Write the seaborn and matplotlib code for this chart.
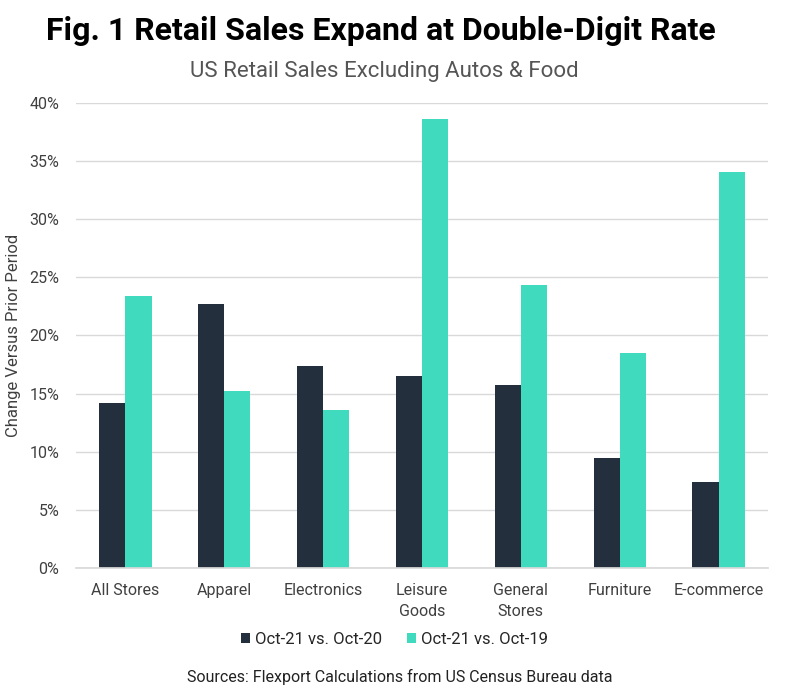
import numpy as np
import pandas as pd
import seaborn as sns
import matplotlib.pyplot as plt
from matplotlib.ticker import PercentFormatter, FixedLocator

categories = ["All Stores", "Apparel", "Electronics", "Leisure\nGoods",
              "General\nStores", "Furniture", "E-commerce"]
vs_oct20 = [14.2, 22.7, 17.4, 16.5, 15.7, 9.5, 7.4]
vs_oct19 = [23.4, 15.2, 13.6, 38.6, 24.3, 18.5, 34.1]
series = ["Oct-21 vs. Oct-20", "Oct-21 vs. Oct-19"]
colors = ["#242f3e", "#40dbbf"]

df = pd.DataFrame({
    "category": categories * 2,
    "value": vs_oct20 + vs_oct19,
    "series": [series[0]] * 7 + [series[1]] * 7,
})

sns.set_theme(style="white")
plt.rcParams["font.family"] = ["Roboto", "DejaVu Sans"]

fig = plt.figure(figsize=(8, 6.94), dpi=100)
ax = fig.add_axes([0.095, 0.1816, 0.865, 0.67])

sns.barplot(data=df, x="category", y="value", hue="series", palette=colors,
            width=0.53, gap=0, saturation=1, linewidth=0, ax=ax, legend=True)

ax.set_ylim(0, 40)
ax.set_yticks(np.arange(0, 41, 5))
ax.yaxis.set_major_formatter(PercentFormatter(decimals=0))
ax.yaxis.grid(True, color="#d9d9d9", linewidth=1)
ax.set_axisbelow(True)
ax.set_xlim(-0.5, 6.5)
for s in ["top", "right", "left"]:
    ax.spines[s].set_visible(False)
ax.spines["bottom"].set_color("#d9d9d9")
ax.tick_params(axis="y", length=0, labelsize=11.5, labelcolor="#404040", pad=12)
ax.tick_params(axis="x", length=0, labelsize=11.5, labelcolor="#404040", pad=11)
for lbl in ax.get_xticklabels():
    lbl.set_linespacing(1.5)
ax.xaxis.set_minor_locator(FixedLocator(np.arange(-0.5, 7, 1)))
ax.tick_params(axis="x", which="minor", length=6, color="#d9d9d9", width=1, direction="out")
ax.set_xlabel("")
ax.set_ylabel("Change Versus Prior Period", fontsize=12, color="#404040", labelpad=6)

ax.legend(loc="upper center", bbox_to_anchor=(0.46, -0.105), ncol=2, frameon=False,
          fontsize=12, handlelength=0.55, handleheight=0.55, handletextpad=0.3,
          columnspacing=1.5, labelcolor="#262626")

fig.text(0.476, 0.955, "Fig. 1 Retail Sales Expand at Double-Digit Rate", ha="center",
         va="center", fontsize=23, fontweight="bold", color="black")
fig.text(0.48, 0.897, "US Retail Sales Excluding Autos & Food", ha="center",
         va="center", fontsize=16, color="#555555")
fig.text(0.5, 0.024, "Sources: Flexport Calculations from US Census Bureau data",
         ha="center", va="center", fontsize=11.5, color="#222222")

fig.savefig("out.png", dpi=100, facecolor="white")
